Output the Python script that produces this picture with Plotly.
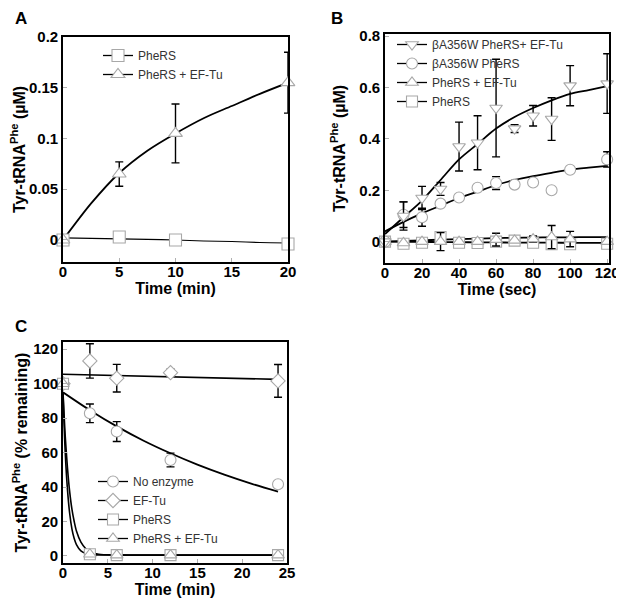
import plotly.graph_objects as go

# ---------------- Panel A data ----------------
a_time = [0, 5, 10, 20]
a_pheRS = [0.0, 0.003, 0.0, -0.004]
a_pheRS_err = [0, 0, 0, 0]
a_pheRS_eftu = [0.0, 0.065, 0.105, 0.155]
a_pheRS_eftu_err = [0, 0.012, 0.029, 0.030]
a_fit_time = [0, 2.5, 5, 7.5, 10, 12.5, 15, 17.5, 20]
a_fit_pheRS = [0.002, 0.0015, 0.001, 0.0005, 0.0, -0.001, -0.0015, -0.0025, -0.003]
a_fit_pheRS_eftu = [0.0, 0.036, 0.066, 0.088, 0.105, 0.120, 0.132, 0.144, 0.155]

# ---------------- Panel B data ----------------
b_time = [0, 10, 20, 30, 40, 50, 60, 70, 80, 90, 100, 120]
b_mut_eftu = [0.0, 0.10, 0.17, 0.205, 0.37, 0.385, 0.52, 0.44, 0.49, 0.477, 0.607, 0.615]
b_mut_eftu_err = [0, 0.055, 0.045, 0.025, 0.095, 0.105, 0.19, 0.015, 0.04, 0.083, 0.078, 0.116]
b_mut = [0.0, 0.105, 0.095, 0.148, 0.172, 0.21, 0.228, 0.222, 0.23, 0.2, 0.28, 0.32]
b_mut_err = [0, 0.05, 0.035, 0, 0, 0, 0.025, 0, 0, 0, 0, 0.03]
b_wt_eftu = [0.0, -0.005, 0.0, 0.0, 0.0, 0.0, 0.008, 0.005, 0.01, 0.018, 0.01, 0.0]
b_wt_eftu_err = [0, 0, 0, 0.035, 0, 0, 0.025, 0, 0.012, 0.045, 0.03, 0]
b_wt = [0.0, -0.008, -0.004, 0.018, -0.004, -0.005, 0.0, 0.004, -0.004, -0.01, -0.01, -0.008]
b_wt_err = [0, 0, 0, 0, 0, 0, 0, 0, 0, 0, 0, 0]
b_fit_time = [0, 10, 20, 30, 40, 50, 60, 70, 80, 90, 100, 110, 120]
b_fit_mut_eftu = [0.03, 0.095, 0.16, 0.24, 0.32, 0.38, 0.44, 0.485, 0.52, 0.55, 0.575, 0.59, 0.605]
b_fit_mut = [0.04, 0.077, 0.11, 0.14, 0.17, 0.195, 0.22, 0.24, 0.255, 0.268, 0.28, 0.288, 0.295]
b_fit_wt_eftu = [0.0, 0.003, 0.005, 0.008, 0.01, 0.012, 0.014, 0.015, 0.016, 0.017, 0.017, 0.018, 0.018]
b_fit_wt = [0.0, -0.0005, -0.001, -0.0015, -0.002, -0.0025, -0.003, -0.0035, -0.004, -0.004, -0.0045, -0.005, -0.005]

# ---------------- Panel C data ----------------
c_time = [0, 3, 6, 12, 24]
c_none = [100, 82.8, 72.2, 55.7, 41.6]
c_none_err = [0, 5.4, 5.8, 4.0, 0]
c_eftu = [100, 113.2, 103.2, 106.4, 101.6]
c_eftu_err = [0, 10, 8, 2, 9.5]
c_pheRS = [100, 1.0, 0.5, 0.5, 0.5]
c_pheRS_eftu = [100, 1.0, 0.5, 0.5, 0.5]
c_fit_none_time = [0, 3, 6, 9, 12, 15, 18, 21, 24]
c_fit_none = [95, 84.6, 75.2, 66.9, 59.6, 53.0, 47.2, 42.0, 37.4]
c_fit_eftu_time = [0, 24]
c_fit_eftu = [105.5, 102.5]
c_fit_dec_time = [0, 0.25, 0.5, 0.75, 1, 1.25, 1.5, 2, 2.5, 3, 4, 6, 12, 24]
c_fit_pheRS = [95, 60, 38.5, 24.5, 15.6, 10.1, 6.6, 2.9, 1.5, 0.9, 0.6, 0.5, 0.5, 0.5]
c_fit_pheRS_eftu = [95, 69.5, 51, 37, 27, 20, 14.5, 8, 4.5, 2.5, 1.0, 0.6, 0.5, 0.5]

FONT = "Liberation Sans, Arial, sans-serif"
MK_LINE = dict(color="#a8a8a8", width=1.1)
ERR = dict(type="data", symmetric=True, color="black", thickness=1.4, width=4)

fig = go.Figure()


def fit(x, y, xa, ya, width=1.6):
    fig.add_trace(go.Scatter(x=x, y=y, mode="lines", xaxis=xa, yaxis=ya,
                             line=dict(color="black", width=width, shape="spline", smoothing=0.8),
                             showlegend=False, hoverinfo="skip"))


def pts(x, y, err, symbol, xa, ya, size=11):
    fig.add_trace(go.Scatter(x=x, y=y, mode="markers", xaxis=xa, yaxis=ya, cliponaxis=False,
                             error_y=dict(array=err, **ERR),
                             marker=dict(symbol=symbol, size=size, color="white", line=MK_LINE),
                             showlegend=False))


def key(name, symbol, legend, size=11):
    fig.add_trace(go.Scatter(x=[None], y=[None], mode="lines+markers", name=name, legend=legend,
                             line=dict(color="black", width=1.3),
                             marker=dict(symbol=symbol, size=size, color="white", line=MK_LINE)))


# Panel A
fit(a_fit_time, a_fit_pheRS, "x", "y", 1.2)
fit(a_fit_time, a_fit_pheRS_eftu, "x", "y", 1.8)
pts(a_time, a_pheRS, a_pheRS_err, "square", "x", "y", 12)
pts(a_time, a_pheRS_eftu, a_pheRS_eftu_err, "triangle-up", "x", "y", 12)
key("PheRS", "square", "legend", 12)
key("PheRS + EF-Tu", "triangle-up", "legend", 12)

# Panel B
fit(b_fit_time, b_fit_mut_eftu, "x2", "y2", 1.8)
fit(b_fit_time, b_fit_mut, "x2", "y2", 1.8)
fit(b_fit_time, b_fit_wt_eftu, "x2", "y2", 1.8)
fit(b_fit_time, b_fit_wt, "x2", "y2", 1.8)
pts(b_time, b_wt, b_wt_err, "square", "x2", "y2")
pts(b_time, b_wt_eftu, b_wt_eftu_err, "triangle-up", "x2", "y2")
pts(b_time, b_mut, b_mut_err, "circle", "x2", "y2")
pts(b_time, b_mut_eftu, b_mut_eftu_err, "triangle-down", "x2", "y2")
key("βA356W PheRS+ EF-Tu", "triangle-down", "legend2")
key("βA356W PheRS", "circle", "legend2")
key("PheRS + EF-Tu", "triangle-up", "legend2")
key("PheRS", "square", "legend2")

# Panel C
fit(c_fit_eftu_time, c_fit_eftu, "x3", "y3", 1.6)
fit(c_fit_none_time, c_fit_none, "x3", "y3", 1.8)
fit(c_fit_dec_time, c_fit_pheRS, "x3", "y3", 1.6)
fit(c_fit_dec_time, c_fit_pheRS_eftu, "x3", "y3", 1.6)
pts(c_time, c_none, c_none_err, "circle", "x3", "y3")
pts(c_time, c_eftu, c_eftu_err, "diamond", "x3", "y3")
pts(c_time, c_pheRS, [0] * 5, "square", "x3", "y3")
pts(c_time, c_pheRS_eftu, [0] * 5, "triangle-up", "x3", "y3")
key("No enzyme", "circle", "legend3")
key("EF-Tu", "diamond", "legend3")
key("PheRS", "square", "legend3")
key("PheRS + EF-Tu", "triangle-up", "legend3")

# page body has an 8px margin, so the figure is offset by 8px
OFF = 8
W, H = 624 - OFF, 603 - OFF


def fx(px):
    return (px - OFF) / W


def fy(py):
    return 1 - (py - OFF) / H


def px_x(a, b):
    return [fx(a), fx(b)]


def px_y(top, bottom):
    return [fy(bottom), fy(top)]


tickfont = dict(family=FONT, size=15, color="black", weight="bold")
titlefont = dict(family=FONT, size=16, color="black", weight="bold")
common = dict(showline=True, linecolor="black", linewidth=1.6, mirror=True,
              ticks="inside", ticklen=4, tickcolor="#b0b0b0", tickwidth=1,
              showgrid=False, zeroline=False, tickfont=tickfont, automargin=False)
xcommon = dict(common, ticklabelstandoff=-5)
legfont = dict(family=FONT, size=12, color="#333333")
letter = dict(family=FONT, size=17, color="black", weight="bold")

fig.update_layout(
    width=W, height=H, margin=dict(l=0, r=0, t=0, b=0),
    paper_bgcolor="white", plot_bgcolor="white",
    xaxis=dict(domain=px_x(63, 288), range=[0, 20], tickvals=[0, 5, 10, 15, 20],
               title=dict(text="Time (min)", font=titlefont, standoff=0), anchor="y", **xcommon),
    yaxis=dict(domain=px_y(37, 262), range=[-0.0217, 0.2], tickvals=[0, 0.05, 0.1, 0.15, 0.2],
               ticktext=["0", "0.05", "0.1", "0.15", "0.2"],
               title=dict(text="Tyr-tRNA<sup>Phe</sup> (µM)", font=titlefont, standoff=5), anchor="x", **common),
    xaxis2=dict(domain=px_x(385, 609), range=[0, 121], tickvals=[0, 20, 40, 60, 80, 100, 120],
                title=dict(text="Time (sec)", font=titlefont, standoff=0), anchor="y2", **xcommon),
    yaxis2=dict(domain=px_y(34, 263), range=[-0.083, 0.808], tickvals=[0, 0.2, 0.4, 0.6, 0.8],
                ticktext=["0", "0.2", "0.4", "0.6", "0.8"],
                title=dict(text="Tyr-tRNA<sup>Phe</sup> (µM)", font=titlefont, standoff=10), anchor="x2", **common),
    xaxis3=dict(domain=px_x(63, 287), range=[0, 25], tickvals=[0, 5, 10, 15, 20, 25],
                title=dict(text="Time (min)", font=titlefont, standoff=0), anchor="y3", **xcommon),
    yaxis3=dict(domain=px_y(342, 563), range=[-4.1, 124.2], tickvals=[0, 20, 40, 60, 80, 100, 120],
                title=dict(text="Tyr-tRNA<sup>Phe</sup> (% remaining)", font=titlefont, standoff=2),
                anchor="x3", **common),
    legend=dict(x=fx(98), y=fy(41), xanchor="left", yanchor="top", bgcolor="rgba(0,0,0,0)",
                font=legfont, tracegroupgap=0, itemwidth=30),
    legend2=dict(x=fx(392), y=fy(30), xanchor="left", yanchor="top", bgcolor="rgba(0,0,0,0)",
                 font=legfont, tracegroupgap=0, itemwidth=30),
    legend3=dict(x=fx(93), y=fy(467), xanchor="left", yanchor="top", bgcolor="rgba(0,0,0,0)",
                 font=legfont, tracegroupgap=0, itemwidth=30),
    annotations=[
        dict(text="A", x=fx(21), y=fy(18), xref="paper", yref="paper", showarrow=False,
             xanchor="center", yanchor="middle", font=letter),
        dict(text="B", x=fx(337), y=fy(18), xref="paper", yref="paper", showarrow=False,
             xanchor="center", yanchor="middle", font=letter),
        dict(text="C", x=fx(21), y=fy(326), xref="paper", yref="paper", showarrow=False,
             xanchor="center", yanchor="middle", font=letter),
    ],
)

fig.write_html("out.html")
